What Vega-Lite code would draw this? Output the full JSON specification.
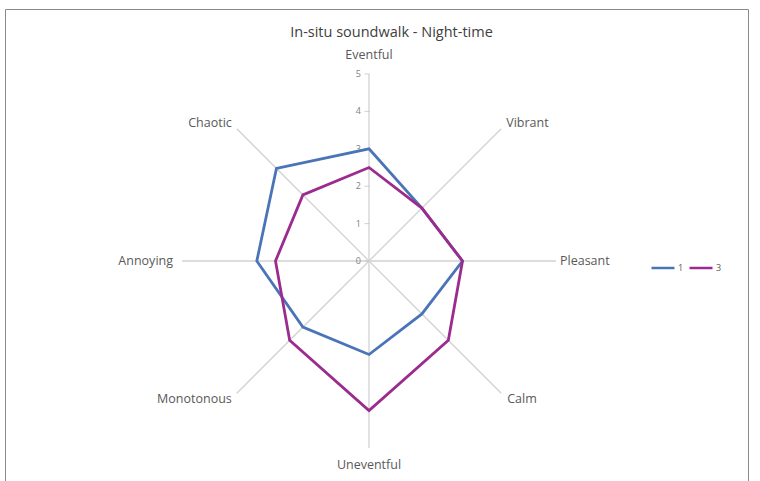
{
  "$schema": "https://vega.github.io/schema/vega-lite/v6.json",
  "width": 743,
  "height": 472,
  "autosize": {"type": "none"},
  "padding": {"left": 5, "top": 9, "right": 12, "bottom": 0},
  "background": "white",
  "config": {
    "view": {"stroke": "#8a8a8a", "strokeWidth": 1, "fill": "white"},
    "font": "Open Sans",
    "text": {"font": "Open Sans"}
  },
  "title": {
    "text": "In-situ soundwalk - Night-time",
    "fontSize": 14.5,
    "fontWeight": "normal",
    "color": "#404040",
    "anchor": "middle",
    "offset": -31,
    "dx": 15
  },
  "datasets": {
    "spokes": [
      {"attr": "Eventful", "idx": 0},
      {"attr": "Vibrant", "idx": 1},
      {"attr": "Pleasant", "idx": 2},
      {"attr": "Calm", "idx": 3},
      {"attr": "Uneventful", "idx": 4},
      {"attr": "Monotonous", "idx": 5},
      {"attr": "Annoying", "idx": 6},
      {"attr": "Chaotic", "idx": 7}
    ],
    "ticks": [{"tick": 0}, {"tick": 1}, {"tick": 2}, {"tick": 3}, {"tick": 4}, {"tick": 5}],
    "scores": [
      {"series": "1", "attr": "Eventful", "idx": 0, "value": 3},
      {"series": "1", "attr": "Vibrant", "idx": 1, "value": 2},
      {"series": "1", "attr": "Pleasant", "idx": 2, "value": 2.5},
      {"series": "1", "attr": "Calm", "idx": 3, "value": 2},
      {"series": "1", "attr": "Uneventful", "idx": 4, "value": 2.5},
      {"series": "1", "attr": "Monotonous", "idx": 5, "value": 2.5},
      {"series": "1", "attr": "Annoying", "idx": 6, "value": 3},
      {"series": "1", "attr": "Chaotic", "idx": 7, "value": 3.5},
      {"series": "3", "attr": "Eventful", "idx": 0, "value": 2.5},
      {"series": "3", "attr": "Vibrant", "idx": 1, "value": 2},
      {"series": "3", "attr": "Pleasant", "idx": 2, "value": 2.5},
      {"series": "3", "attr": "Calm", "idx": 3, "value": 3},
      {"series": "3", "attr": "Uneventful", "idx": 4, "value": 4},
      {"series": "3", "attr": "Monotonous", "idx": 5, "value": 3},
      {"series": "3", "attr": "Annoying", "idx": 6, "value": 2.5},
      {"series": "3", "attr": "Chaotic", "idx": 7, "value": 2.5}
    ]
  },
  "encoding": {
    "x": {"field": "px", "type": "quantitative", "axis": null, "scale": {"domain": [-9.733, 10.134], "nice": false, "zero": false}},
    "y": {"field": "py", "type": "quantitative", "axis": null, "scale": {"domain": [-5.882, 6.738], "nice": false, "zero": false}}
  },
  "layer": [
    {
      "data": {"name": "spokes"},
      "transform": [
        {"calculate": "5*sin(datum.idx*PI/4)", "as": "px"},
        {"calculate": "5*cos(datum.idx*PI/4)", "as": "py"}
      ],
      "mark": {"type": "rule", "color": "#d2d2d2", "strokeWidth": 1.3},
      "encoding": {"x2": {"datum": 0}, "y2": {"datum": 0}}
    },
    {
      "data": {"name": "ticks"},
      "transform": [
        {"calculate": "0", "as": "px"},
        {"calculate": "datum.tick", "as": "py"}
      ],
      "mark": {"type": "tick", "orient": "horizontal", "size": 5, "thickness": 1, "color": "#bdbdbd", "xOffset": -2}
    },
    {
      "data": {"name": "ticks"},
      "transform": [
        {"calculate": "0", "as": "px"},
        {"calculate": "datum.tick", "as": "py"}
      ],
      "mark": {"type": "text", "align": "right", "baseline": "middle", "dx": -8, "fontSize": 9, "color": "#7f7f7f"},
      "encoding": {"text": {"field": "tick", "type": "quantitative"}}
    },
    {
      "data": {"name": "scores"},
      "transform": [
        {"calculate": "datum.value*sin(datum.idx*PI/4)", "as": "px"},
        {"calculate": "datum.value*cos(datum.idx*PI/4)", "as": "py"}
      ],
      "mark": {"type": "line", "interpolate": "linear-closed", "strokeWidth": 2.8},
      "encoding": {
        "order": {"field": "idx", "type": "quantitative"},
        "color": {
          "field": "series",
          "type": "nominal",
          "scale": {"domain": ["1", "3"], "range": ["#4a74b8", "#9b2c8e"]},
          "legend": {
            "orient": "none",
            "legendX": 645,
            "legendY": 246,
            "direction": "horizontal",
            "title": null,
            "symbolType": "stroke",
            "symbolSize": 529,
            "symbolStrokeWidth": 2.5,
            "labelFontSize": 9,
            "labelColor": "#595959",
            "labelOffset": 2,
            "columnPadding": 0
          }
        }
      }
    },
    {
      "data": {"name": "spokes"},
      "transform": [
        {"filter": "datum.attr == 'Eventful'"},
        {"calculate": "5*sin(datum.idx*PI/4)", "as": "px"},
        {"calculate": "5*cos(datum.idx*PI/4)", "as": "py"}
      ],
      "mark": {"type": "text", "align": "center", "baseline": "middle", "dy": -19, "fontSize": 12.5, "color": "#595959"},
      "encoding": {"text": {"field": "attr"}}
    },
    {
      "data": {"name": "spokes"},
      "transform": [
        {"filter": "datum.attr == 'Vibrant'"},
        {"calculate": "5*sin(datum.idx*PI/4)", "as": "px"},
        {"calculate": "5*cos(datum.idx*PI/4)", "as": "py"}
      ],
      "mark": {"type": "text", "align": "left", "baseline": "middle", "dx": 5, "dy": -6, "fontSize": 12.5, "color": "#595959"},
      "encoding": {"text": {"field": "attr"}}
    },
    {
      "data": {"name": "spokes"},
      "transform": [
        {"filter": "datum.attr == 'Pleasant'"},
        {"calculate": "5*sin(datum.idx*PI/4)", "as": "px"},
        {"calculate": "5*cos(datum.idx*PI/4)", "as": "py"}
      ],
      "mark": {"type": "text", "align": "left", "baseline": "middle", "dx": 4, "fontSize": 12.5, "color": "#595959"},
      "encoding": {"text": {"field": "attr"}}
    },
    {
      "data": {"name": "spokes"},
      "transform": [
        {"filter": "datum.attr == 'Calm'"},
        {"calculate": "5*sin(datum.idx*PI/4)", "as": "px"},
        {"calculate": "5*cos(datum.idx*PI/4)", "as": "py"}
      ],
      "mark": {"type": "text", "align": "left", "baseline": "middle", "dx": 6, "dy": 6, "fontSize": 12.5, "color": "#595959"},
      "encoding": {"text": {"field": "attr"}}
    },
    {
      "data": {"name": "spokes"},
      "transform": [
        {"filter": "datum.attr == 'Uneventful'"},
        {"calculate": "5*sin(datum.idx*PI/4)", "as": "px"},
        {"calculate": "5*cos(datum.idx*PI/4)", "as": "py"}
      ],
      "mark": {"type": "text", "align": "center", "baseline": "middle", "dy": 17, "fontSize": 12.5, "color": "#595959"},
      "encoding": {"text": {"field": "attr"}}
    },
    {
      "data": {"name": "spokes"},
      "transform": [
        {"filter": "datum.attr == 'Monotonous'"},
        {"calculate": "5*sin(datum.idx*PI/4)", "as": "px"},
        {"calculate": "5*cos(datum.idx*PI/4)", "as": "py"}
      ],
      "mark": {"type": "text", "align": "right", "baseline": "middle", "dx": -5, "dy": 6, "fontSize": 12.5, "color": "#595959"},
      "encoding": {"text": {"field": "attr"}}
    },
    {
      "data": {"name": "spokes"},
      "transform": [
        {"filter": "datum.attr == 'Annoying'"},
        {"calculate": "5*sin(datum.idx*PI/4)", "as": "px"},
        {"calculate": "5*cos(datum.idx*PI/4)", "as": "py"}
      ],
      "mark": {"type": "text", "align": "right", "baseline": "middle", "dx": -9, "fontSize": 12.5, "color": "#595959"},
      "encoding": {"text": {"field": "attr"}}
    },
    {
      "data": {"name": "spokes"},
      "transform": [
        {"filter": "datum.attr == 'Chaotic'"},
        {"calculate": "5*sin(datum.idx*PI/4)", "as": "px"},
        {"calculate": "5*cos(datum.idx*PI/4)", "as": "py"}
      ],
      "mark": {"type": "text", "align": "right", "baseline": "middle", "dx": -5, "dy": -6, "fontSize": 12.5, "color": "#595959"},
      "encoding": {"text": {"field": "attr"}}
    }
  ]
}
